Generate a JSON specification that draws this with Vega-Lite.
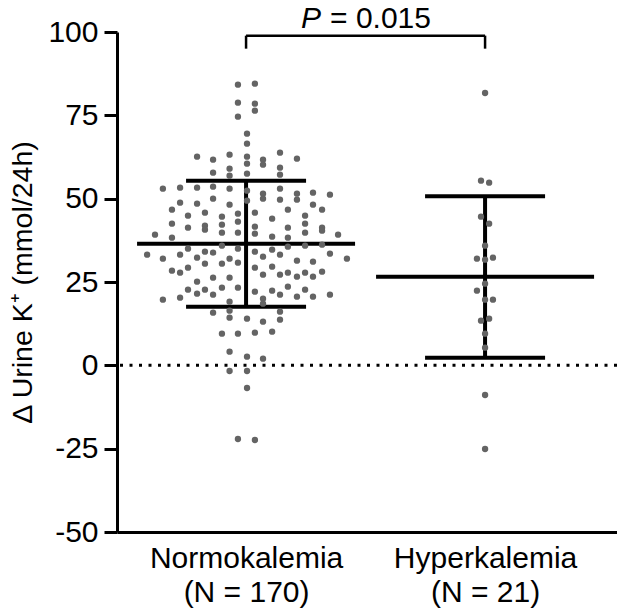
{
  "$schema": "https://vega.github.io/schema/vega-lite/v6.json",
  "width": 500,
  "height": 500,
  "autosize": {"type": "none"},
  "padding": {"left": 117, "top": 32, "right": 0, "bottom": 84},
  "background": "white",
  "config": {"view": {"stroke": null}, "font": "Liberation Sans"},
  "datasets": {
    "points": [
      {"g":"Normokalemia","x":0.466,"v":84.2},{"g":"Normokalemia","x":0.537,"v":84.5},{"g":"Normokalemia","x":0.466,"v":78.8},{"g":"Normokalemia","x":0.537,"v":78.5},{"g":"Normokalemia","x":0.537,"v":76.4},{"g":"Normokalemia","x":0.466,"v":74.6},{"g":"Normokalemia","x":0.504,"v":69.5},{"g":"Normokalemia","x":0.504,"v":66.5},{"g":"Normokalemia","x":0.295,"v":62.6},{"g":"Normokalemia","x":0.362,"v":61.7},
      {"g":"Normokalemia","x":0.431,"v":63.2},{"g":"Normokalemia","x":0.504,"v":62.6},{"g":"Normokalemia","x":0.504,"v":60.5},{"g":"Normokalemia","x":0.431,"v":59.0},{"g":"Normokalemia","x":0.571,"v":61.7},{"g":"Normokalemia","x":0.571,"v":60.2},{"g":"Normokalemia","x":0.642,"v":63.8},{"g":"Normokalemia","x":0.713,"v":62.0},{"g":"Normokalemia","x":0.642,"v":59.3},{"g":"Normokalemia","x":0.362,"v":57.8},
      {"g":"Normokalemia","x":0.431,"v":56.9},{"g":"Normokalemia","x":0.504,"v":57.5},{"g":"Normokalemia","x":0.152,"v":53.0},{"g":"Normokalemia","x":0.224,"v":53.3},{"g":"Normokalemia","x":0.295,"v":53.3},{"g":"Normokalemia","x":0.362,"v":53.6},{"g":"Normokalemia","x":0.431,"v":53.0},{"g":"Normokalemia","x":0.504,"v":52.4},{"g":"Normokalemia","x":0.224,"v":48.8},{"g":"Normokalemia","x":0.190,"v":46.7},
      {"g":"Normokalemia","x":0.295,"v":48.5},{"g":"Normokalemia","x":0.362,"v":50.0},{"g":"Normokalemia","x":0.431,"v":48.2},{"g":"Normokalemia","x":0.504,"v":49.4},{"g":"Normokalemia","x":0.257,"v":44.9},{"g":"Normokalemia","x":0.328,"v":45.8},{"g":"Normokalemia","x":0.399,"v":44.6},{"g":"Normokalemia","x":0.466,"v":45.5},{"g":"Normokalemia","x":0.466,"v":43.1},{"g":"Normokalemia","x":0.190,"v":42.5},
      {"g":"Normokalemia","x":0.257,"v":41.3},{"g":"Normokalemia","x":0.328,"v":41.9},{"g":"Normokalemia","x":0.328,"v":40.7},{"g":"Normokalemia","x":0.399,"v":42.2},{"g":"Normokalemia","x":0.399,"v":39.8},{"g":"Normokalemia","x":0.466,"v":39.8},{"g":"Normokalemia","x":0.119,"v":39.2},{"g":"Normokalemia","x":0.190,"v":38.3},{"g":"Normokalemia","x":0.257,"v":35.0},{"g":"Normokalemia","x":0.328,"v":34.1},
      {"g":"Normokalemia","x":0.399,"v":35.9},{"g":"Normokalemia","x":0.466,"v":35.0},{"g":"Normokalemia","x":0.086,"v":33.2},{"g":"Normokalemia","x":0.152,"v":32.0},{"g":"Normokalemia","x":0.224,"v":33.2},{"g":"Normokalemia","x":0.295,"v":32.3},{"g":"Normokalemia","x":0.362,"v":33.8},{"g":"Normokalemia","x":0.431,"v":32.0},{"g":"Normokalemia","x":0.466,"v":30.8},{"g":"Normokalemia","x":0.642,"v":57.2},
      {"g":"Normokalemia","x":0.571,"v":51.5},{"g":"Normokalemia","x":0.571,"v":50.0},{"g":"Normokalemia","x":0.642,"v":53.0},{"g":"Normokalemia","x":0.642,"v":49.7},{"g":"Normokalemia","x":0.713,"v":51.5},{"g":"Normokalemia","x":0.713,"v":49.7},{"g":"Normokalemia","x":0.780,"v":51.8},{"g":"Normokalemia","x":0.851,"v":51.2},{"g":"Normokalemia","x":0.780,"v":48.2},{"g":"Normokalemia","x":0.818,"v":46.7},
      {"g":"Normokalemia","x":0.675,"v":46.7},{"g":"Normokalemia","x":0.537,"v":45.8},{"g":"Normokalemia","x":0.609,"v":44.0},{"g":"Normokalemia","x":0.747,"v":44.9},{"g":"Normokalemia","x":0.747,"v":42.5},{"g":"Normokalemia","x":0.747,"v":39.8},{"g":"Normokalemia","x":0.537,"v":41.6},{"g":"Normokalemia","x":0.537,"v":39.5},{"g":"Normokalemia","x":0.675,"v":41.3},{"g":"Normokalemia","x":0.675,"v":38.3},
      {"g":"Normokalemia","x":0.818,"v":41.3},{"g":"Normokalemia","x":0.818,"v":40.4},{"g":"Normokalemia","x":0.609,"v":38.6},{"g":"Normokalemia","x":0.885,"v":39.2},{"g":"Normokalemia","x":0.537,"v":34.1},{"g":"Normokalemia","x":0.571,"v":32.6},{"g":"Normokalemia","x":0.609,"v":34.7},{"g":"Normokalemia","x":0.642,"v":33.2},{"g":"Normokalemia","x":0.675,"v":35.6},{"g":"Normokalemia","x":0.747,"v":35.9},
      {"g":"Normokalemia","x":0.818,"v":36.2},{"g":"Normokalemia","x":0.851,"v":33.5},{"g":"Normokalemia","x":0.922,"v":32.0},{"g":"Normokalemia","x":0.713,"v":31.4},{"g":"Normokalemia","x":0.780,"v":31.1},{"g":"Normokalemia","x":0.190,"v":28.4},{"g":"Normokalemia","x":0.224,"v":27.8},{"g":"Normokalemia","x":0.257,"v":29.3},{"g":"Normokalemia","x":0.328,"v":30.5},{"g":"Normokalemia","x":0.399,"v":30.5},
      {"g":"Normokalemia","x":0.295,"v":25.1},{"g":"Normokalemia","x":0.362,"v":26.3},{"g":"Normokalemia","x":0.431,"v":26.3},{"g":"Normokalemia","x":0.257,"v":22.7},{"g":"Normokalemia","x":0.295,"v":21.5},{"g":"Normokalemia","x":0.328,"v":22.7},{"g":"Normokalemia","x":0.362,"v":21.2},{"g":"Normokalemia","x":0.399,"v":23.3},{"g":"Normokalemia","x":0.466,"v":23.3},{"g":"Normokalemia","x":0.152,"v":19.7},
      {"g":"Normokalemia","x":0.224,"v":20.3},{"g":"Normokalemia","x":0.431,"v":19.1},{"g":"Normokalemia","x":0.362,"v":15.8},{"g":"Normokalemia","x":0.431,"v":16.4},{"g":"Normokalemia","x":0.431,"v":14.3},{"g":"Normokalemia","x":0.504,"v":14.0},{"g":"Normokalemia","x":0.399,"v":9.5},{"g":"Normokalemia","x":0.466,"v":9.5},{"g":"Normokalemia","x":0.431,"v":4.1},{"g":"Normokalemia","x":0.504,"v":2.6},
      {"g":"Normokalemia","x":0.537,"v":29.3},{"g":"Normokalemia","x":0.609,"v":29.6},{"g":"Normokalemia","x":0.571,"v":27.2},{"g":"Normokalemia","x":0.642,"v":27.2},{"g":"Normokalemia","x":0.675,"v":27.8},{"g":"Normokalemia","x":0.713,"v":26.6},{"g":"Normokalemia","x":0.747,"v":27.8},{"g":"Normokalemia","x":0.780,"v":26.6},{"g":"Normokalemia","x":0.818,"v":28.1},{"g":"Normokalemia","x":0.537,"v":22.1},
      {"g":"Normokalemia","x":0.609,"v":22.4},{"g":"Normokalemia","x":0.642,"v":21.2},{"g":"Normokalemia","x":0.675,"v":23.6},{"g":"Normokalemia","x":0.713,"v":20.6},{"g":"Normokalemia","x":0.747,"v":22.7},{"g":"Normokalemia","x":0.780,"v":20.6},{"g":"Normokalemia","x":0.851,"v":21.2},{"g":"Normokalemia","x":0.571,"v":20.0},{"g":"Normokalemia","x":0.571,"v":18.5},{"g":"Normokalemia","x":0.642,"v":16.1},
      {"g":"Normokalemia","x":0.642,"v":13.7},{"g":"Normokalemia","x":0.571,"v":13.1},{"g":"Normokalemia","x":0.537,"v":9.8},{"g":"Normokalemia","x":0.609,"v":10.1},{"g":"Normokalemia","x":0.571,"v":2.0},{"g":"Normokalemia","x":0.431,"v":-1.7},{"g":"Normokalemia","x":0.504,"v":-1.7},{"g":"Normokalemia","x":0.504,"v":-6.8},{"g":"Normokalemia","x":0.466,"v":-22.1},{"g":"Normokalemia","x":0.537,"v":-22.4},
      {"g":"Hyperkalemia","x":1.500,"v":81.7},{"g":"Hyperkalemia","x":1.483,"v":55.4},{"g":"Hyperkalemia","x":1.517,"v":54.8},{"g":"Hyperkalemia","x":1.483,"v":44.6},{"g":"Hyperkalemia","x":1.517,"v":42.5},{"g":"Hyperkalemia","x":1.500,"v":35.9},{"g":"Hyperkalemia","x":1.466,"v":32.0},{"g":"Hyperkalemia","x":1.500,"v":31.7},{"g":"Hyperkalemia","x":1.533,"v":32.3},{"g":"Hyperkalemia","x":1.500,"v":24.5},
      {"g":"Hyperkalemia","x":1.466,"v":22.4},{"g":"Hyperkalemia","x":1.500,"v":19.7},{"g":"Hyperkalemia","x":1.533,"v":19.7},{"g":"Hyperkalemia","x":1.483,"v":13.4},{"g":"Hyperkalemia","x":1.517,"v":14.0},{"g":"Hyperkalemia","x":1.500,"v":9.5},{"g":"Hyperkalemia","x":1.500,"v":5.3},{"g":"Hyperkalemia","x":1.500,"v":-8.9},{"g":"Hyperkalemia","x":1.500,"v":-25.1}
    ],
    "summary": [
      {"g":"Normokalemia","x":0.5,"mean":36.5,"lo":17.6,"hi":55.4},
      {"g":"Hyperkalemia","x":1.5,"mean":26.6,"lo":2.3,"hi":50.7}
    ],
    "bracket": [
      {"x":0.5,"x2":1.5,"y":98.9,"y2":98.9},
      {"x":0.5,"x2":0.5,"y":95.0,"y2":98.9},
      {"x":1.5,"x2":1.5,"y":95.0,"y2":98.9}
    ],
    "label": [{"x":1.0,"y":101.3}]
  },
  "layer": [
    {
      "data": {"values": [{"y": 0}]},
      "mark": {"type": "rule", "color": "black", "strokeWidth": 3, "strokeDash": [3, 6.5]},
      "encoding": {
        "y": {"field": "y", "type": "quantitative", "scale": {"domain": [-50, 100], "nice": false, "zero": false},
          "axis": {
            "values": [-50, -25, 0, 25, 50, 75, 100],
            "grid": false, "domainColor": "black", "domainWidth": 3,
            "tickColor": "black", "tickWidth": 3, "tickSize": 13,
            "labelExpr": "replace(datum.label, '−', '-')",
            "labelFontSize": 30, "labelColor": "black", "labelPadding": 6,
            "title": "Δ Urine K⁺ (mmol/24h)", "titleFontSize": 28.5, "titleFontWeight": "normal",
            "titleColor": "black", "titlePadding": 10
          }
        }
      }
    },
    {
      "data": {"name": "summary"},
      "mark": {"type": "rule", "color": "black", "strokeWidth": 4},
      "encoding": {
        "x": {"field": "x", "type": "quantitative", "scale": {"domain": [-0.04, 2.052], "nice": false, "zero": false},
          "axis": {
            "values": [0.5, 1.5], "grid": false, "ticks": false,
            "domainColor": "black", "domainWidth": 3,
            "labelExpr": "datum.value < 1 ? ['Normokalemia', '(N = 170)'] : ['Hyperkalemia', '(N = 21)']",
            "labelFontSize": 30, "labelColor": "black", "labelPadding": 11, "labelLineHeight": 34,
            "labelLimit": 0, "labelFlush": false, "labelOverlap": false, "title": null
          }
        },
        "y": {"field": "lo", "type": "quantitative"},
        "y2": {"field": "hi"}
      }
    },
    {
      "data": {"name": "summary"},
      "mark": {"type": "rule", "color": "black", "strokeWidth": 4, "xOffset": -60, "x2Offset": 60},
      "encoding": {
        "x": {"field": "x", "type": "quantitative"},
        "x2": {"field": "x"},
        "y": {"field": "hi", "type": "quantitative"}
      }
    },
    {
      "data": {"name": "summary"},
      "mark": {"type": "rule", "color": "black", "strokeWidth": 4, "xOffset": -60, "x2Offset": 60},
      "encoding": {
        "x": {"field": "x", "type": "quantitative"},
        "x2": {"field": "x"},
        "y": {"field": "lo", "type": "quantitative"}
      }
    },
    {
      "data": {"name": "summary"},
      "mark": {"type": "rule", "color": "black", "strokeWidth": 4, "xOffset": -109, "x2Offset": 109},
      "encoding": {
        "x": {"field": "x", "type": "quantitative"},
        "x2": {"field": "x"},
        "y": {"field": "mean", "type": "quantitative"}
      }
    },
    {
      "data": {"name": "points"},
      "mark": {"type": "circle", "color": "#646464", "opacity": 1, "size": 40},
      "encoding": {
        "x": {"field": "x", "type": "quantitative"},
        "y": {"field": "v", "type": "quantitative"}
      }
    },
    {
      "data": {"name": "bracket"},
      "mark": {"type": "rule", "color": "black", "strokeWidth": 2.5},
      "encoding": {
        "x": {"field": "x", "type": "quantitative"},
        "x2": {"field": "x2"},
        "y": {"field": "y", "type": "quantitative"},
        "y2": {"field": "y2"}
      }
    },
    {
      "data": {"name": "label"},
      "mark": {"type": "text", "text": "P", "fontStyle": "italic", "fontSize": 30, "color": "black", "align": "right", "baseline": "alphabetic", "dx": -44.6},
      "encoding": {
        "x": {"field": "x", "type": "quantitative"},
        "y": {"field": "y", "type": "quantitative"}
      }
    },
    {
      "data": {"name": "label"},
      "mark": {"type": "text", "text": "= 0.015", "fontSize": 30, "color": "black", "align": "left", "baseline": "alphabetic", "dx": -35.5},
      "encoding": {
        "x": {"field": "x", "type": "quantitative"},
        "y": {"field": "y", "type": "quantitative"}
      }
    }
  ]
}
